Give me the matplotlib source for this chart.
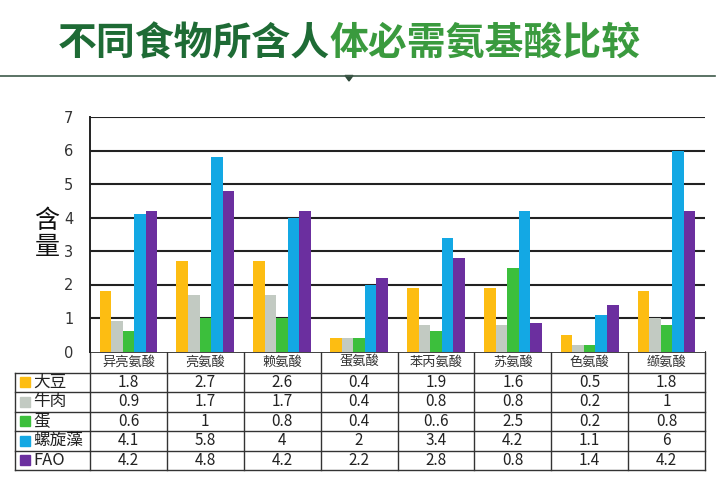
import numpy as np
import matplotlib
matplotlib.use("Agg")
import matplotlib.pyplot as plt
from matplotlib.patches import Rectangle, Polygon

plt.rcParams['font.family'] = ['Noto Sans CJK SC', 'DejaVu Sans']

# 数据
categories = ['异亮氨酸', '亮氨酸', '赖氨酸', '蛋氨酸', '苯丙氨酸', '苏氨酸', '色氨酸', '缬氨酸']
series = ['大豆', '牛肉', '蛋', '螺旋藻', 'FAO']
# 柱高
soy = [1.8, 2.7, 2.7, 0.4, 1.9, 1.9, 0.5, 1.8]
beef = [0.9, 1.7, 1.7, 0.4, 0.8, 0.8, 0.2, 1.0]
egg = [0.6, 1.0, 1.0, 0.4, 0.6, 2.5, 0.2, 0.8]
spirulina = [4.1, 5.8, 4.0, 2.0, 3.4, 4.2, 1.1, 6.0]
fao = [4.2, 4.8, 4.2, 2.2, 2.8, 0.85, 1.4, 4.2]
# 表格中的文字 (原样)
soy_txt = ['1.8', '2.7', '2.6', '0.4', '1.9', '1.6', '0.5', '1.8']
beef_txt = ['0.9', '1.7', '1.7', '0.4', '0.8', '0.8', '0.2', '1']
egg_txt = ['0.6', '1', '0.8', '0.4', '0..6', '2.5', '0.2', '0.8']
spirulina_txt = ['4.1', '5.8', '4', '2', '3.4', '4.2', '1.1', '6']
fao_txt = ['4.2', '4.8', '4.2', '2.2', '2.8', '0.8', '1.4', '4.2']
yticks = [0, 1, 2, 3, 4, 5, 6, 7]

colors = ['#FDBD12', '#C2CAC2', '#3CBF3C', '#13A8E4', '#6B2F9F']
values = [soy, beef, egg, spirulina, fao]
texts = [soy_txt, beef_txt, egg_txt, spirulina_txt, fao_txt]

W, H = 720, 488
fig = plt.figure(figsize=(7.2, 4.88), dpi=100)

# 标题
fig.text(330 / W, 1 - 44 / H, '不同食物所含人', ha='right', va='center',
         fontsize=28, fontweight='black', color='#1E6B35')
fig.text(330 / W, 1 - 44 / H, '体必需氨基酸比较', ha='left', va='center',
         fontsize=28, fontweight='black', color='#3A9A3E')

# 覆盖层 (像素坐标)
over = fig.add_axes([0, 0, 1, 1], zorder=-1)
over.set_xlim(0, W)
over.set_ylim(H, 0)
over.axis('off')
over.plot([0, 715], [75.5, 75.5], color='#3E5A4A', lw=1.2)
over.add_patch(Polygon([[345, 75.5], [353, 75.5], [349, 81]], closed=True,
                       color='#2F4A3A'))

# 主图
left, right, top, bottom = 90, 705, 117, 351.5
ax = fig.add_axes([left / W, 1 - bottom / H, (right - left) / W, (bottom - top) / H])
x = np.arange(len(categories))
bw = 0.15
for i, (vals, c) in enumerate(zip(values, colors)):
    ax.bar(x + (i - 2) * bw, vals, bw, color=c, zorder=3)
ax.set_xlim(-0.5, len(categories) - 0.5)
ax.set_ylim(0, 7)
ax.set_yticks(yticks)
ax.set_yticklabels([str(v) for v in yticks], fontsize=10.5, color='#333333',
                   family='DejaVu Sans')
ax.tick_params(axis='y', length=0, pad=12)
ax.set_xticks([])
for yv in yticks[1:]:
    ax.axhline(yv, color='#222222', lw=1.5, zorder=1)
for s in ['top', 'right', 'bottom']:
    ax.spines[s].set_visible(False)
ax.spines['left'].set_color('#222222')
ax.spines['left'].set_linewidth(1.4)

fig.text(47 / W, 1 - 234 / H, '含\n量', ha='center', va='center', fontsize=18,
         linespacing=1.0, color='#111111', fontweight='medium')

# 表格
col_w = (right - left) / len(categories)
tab_left = 15
header_top, header_bot = 351.5, 372.5
row_h = 19.5
lc = '#333333'
lw = 1.0
# 横线
over.plot([left, right], [header_top, header_top], color=lc, lw=1.3)
over.plot([tab_left, right], [header_bot, header_bot], color=lc, lw=lw)
for r in range(len(series)):
    yb = header_bot + (r + 1) * row_h
    over.plot([tab_left, right], [yb, yb], color=lc, lw=lw)
tab_bot = header_bot + len(series) * row_h
# 竖线
over.plot([tab_left, tab_left], [header_bot, tab_bot], color=lc, lw=lw)
for k in range(len(categories) + 1):
    xv = left + k * col_w
    over.plot([xv, xv], [header_top, tab_bot], color=lc, lw=lw)

for k, cat in enumerate(categories):
    xc = left + (k + 0.5) * col_w
    over.text(xc, (header_top + header_bot) / 2, cat, ha='center', va='center',
              fontsize=9.5, color='#333333')
for r, (name, c, txts) in enumerate(zip(series, colors, texts)):
    yc = header_bot + (r + 0.5) * row_h
    over.add_patch(Rectangle((20, yc - 5), 10, 10, color=c))
    over.text(33, yc, name, ha='left', va='center', fontsize=12, color='#222222')
    for k, tx in enumerate(txts):
        xc = left + (k + 0.5) * col_w
        over.text(xc, yc, tx, ha='center', va='center', fontsize=11, color='#222222')

fig.savefig('out.png', dpi=100, facecolor='white')
